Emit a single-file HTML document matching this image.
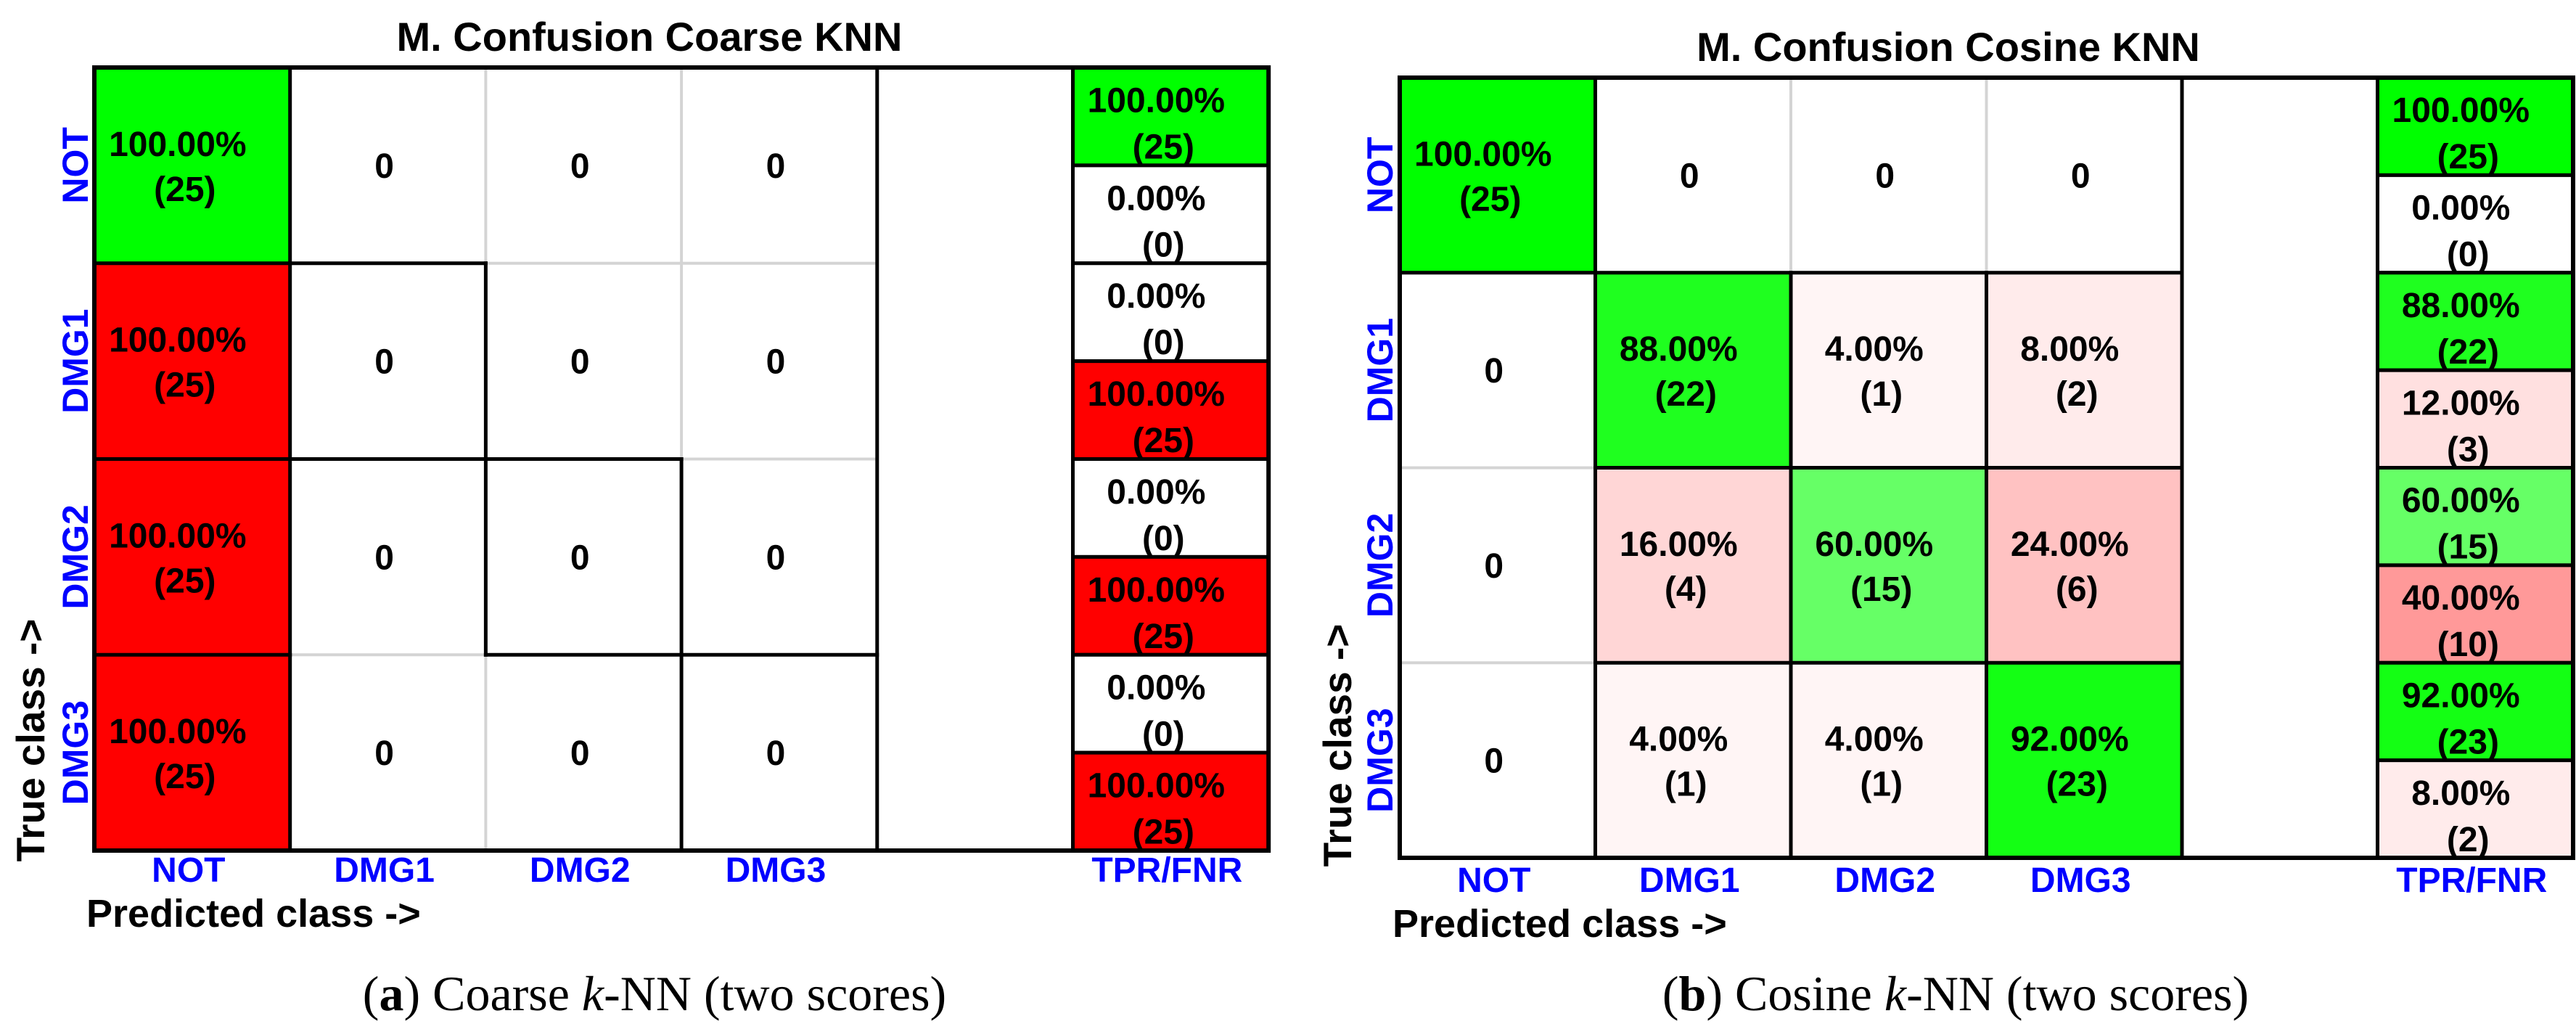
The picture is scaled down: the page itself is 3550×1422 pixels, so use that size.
<!DOCTYPE html>
<html><head><meta charset="utf-8"><style>
html,body{margin:0;padding:0;background:#fff;}
svg{display:block;}
text{font-family:"Liberation Sans",Arial,sans-serif;font-weight:bold;}
.cap{font-family:"Liberation Serif",serif;font-weight:normal;}
</style></head><body>
<svg id="fig" width="3550" height="1422" viewBox="0 0 3550 1422" xmlns="http://www.w3.org/2000/svg"></svg>
<script>
const classLabels = ["NOT","DMG1","DMG2","DMG3"];
const coarseCounts = [[25,0,0,0],[25,0,0,0],[25,0,0,0],[25,0,0,0]];
const cosineCounts = [[25,0,0,0],[0,22,1,2],[0,4,15,6],[0,1,1,23]];
const titles = ["M. Confusion Coarse KNN","M. Confusion Cosine KNN"];

const NS="http://www.w3.org/2000/svg";
const svg=document.getElementById('fig');
function mk(tag,attrs,parent){const e=document.createElementNS(NS,tag);for(const k in attrs)e.setAttribute(k,attrs[k]);(parent||svg).appendChild(e);return e;}

const charts=[
 {id:'coarse',counts:coarseCounts,title:titles[0],x0:130,y0:93,cw:269.7,ch:269.75,titleX:895,titleY:70,xlabY:1215,predX:119,predY:1277,trueX:41,trueY:1020,rowLabX:103,capX:902,capY:1392,capLetter:'a',capName:'Coarse ',
  black:[['h',1,1,2],['h',2,1,3],['h',3,2,4],['v',2,1,3],['v',3,2,4]]},
 {id:'cosine',counts:cosineCounts,title:titles[1],x0:1929,y0:107,cw:269.5,ch:268.75,titleX:2685,titleY:84,xlabY:1229,predX:1919,predY:1291,trueX:1842,trueY:1027,rowLabX:1901,capX:2695,capY:1392,capLetter:'b',capName:'Cosine ',
  black:[['h',1,0,4],['h',2,1,4],['h',3,1,4],['v',2,1,4],['v',3,1,4]]}
];

function fillFor(p,good){if(p<=0)return '#ffffff';const o=Math.round(255*(1-p));return good?`rgb(${o},255,${o})`:`rgb(255,${o},${o})`;}

charts.forEach(c=>{
  const g=mk('g',{});
  
  
  const X=i=>c.x0+i*c.cw, Y=j=>c.y0+j*c.ch;
  const n=classLabels.length;
  // title
  const t=mk('text',{x:c.titleX,y:c.titleY,'text-anchor':'middle','font-size':56,fill:'#000'},g);
  t.textContent=c.title;
  
  
  // cells
  for(let r=0;r<n;r++){
    const tot=c.counts[r].reduce((a,b)=>a+b,0);
    for(let k=0;k<n;k++){
      const v=c.counts[r][k];const p=tot?v/tot:0;
      const rect=mk('rect',{x:X(k),y:Y(r),width:c.cw,height:c.ch,fill:fillFor(p,r===k)},g);
      
      
      const cx=X(k)+c.cw/2, cy=Y(r)+c.ch/2;
      if(v===0){
        const z=mk('text',{x:cx-5,y:cy+17,'text-anchor':'middle','font-size':48},g);z.textContent='0';
        
        
      }else{
        const a=mk('text',{x:cx-20,y:cy-13,'text-anchor':'middle','font-size':48},g);a.textContent=(p*100).toFixed(2)+'%';
        
        
        const b=mk('text',{x:cx-10,y:cy+49,'text-anchor':'middle','font-size':48},g);b.textContent='('+v+')';
        
        
      }
    }
    // TPR/FNR
    const d=c.counts[r][r], tp=tot?d/tot:0, fn=tot?(tot-d)/tot:0;
    const hx=X(5), hh=c.ch/2;
    [[tp,d,true],[fn,tot-d,false]].forEach((q,i)=>{
      const yy=Y(r)+i*hh;
      const rr=mk('rect',{x:hx,y:yy,width:c.cw,height:hh,fill:fillFor(q[0],q[2]),stroke:'#000','stroke-width':5},g);
      
      
      const cx=hx+c.cw/2, cy=yy+hh/2;
      const a=mk('text',{x:cx-20,y:cy-6,'text-anchor':'middle','font-size':48},g);a.textContent=(q[0]*100).toFixed(2)+'%';
      
      
      const b=mk('text',{x:cx-10,y:cy+58,'text-anchor':'middle','font-size':48},g);b.textContent='('+q[1]+')';
      
      
    });
    // row label
    const ly=Y(r)+c.ch/2;
    const rl=mk('text',{x:c.rowLabX,y:ly,'text-anchor':'middle','font-size':50,fill:'#0000ff',transform:`rotate(-90 ${c.rowLabX} ${ly}) translate(0 18)`},g);
    rl.textContent=classLabels[r];
    
    
  }
  // gray internal lines
  for(let i=1;i<n;i++){
    mk('line',{x1:X(i),y1:Y(0),x2:X(i),y2:Y(n),stroke:'#d4d4d4','stroke-width':4},g);
    mk('line',{x1:X(0),y1:Y(i),x2:X(4),y2:Y(i),stroke:'#d4d4d4','stroke-width':4},g);
  }
  // black borders for column 0 block
  const bl=(x1,y1,x2,y2)=>mk('line',{x1,y1,x2,y2,stroke:'#000','stroke-width':5,'stroke-linecap':'square'},g);
  if(c.id==='coarse'){for(let i=1;i<n;i++)bl(X(0),Y(i),X(1),Y(i));}
  bl(X(1),Y(0),X(1),Y(n));
  bl(X(4),Y(0),X(4),Y(n));
  c.black.forEach(s=>{ if(s[0]==='h')bl(X(s[2]),Y(s[1]),X(s[3]),Y(s[1])); else bl(X(s[1]),Y(s[2]),X(s[1]),Y(s[3])); });
  const ob=mk('rect',{x:X(0),y:Y(0),width:6*c.cw,height:n*c.ch,fill:'none',stroke:'#000','stroke-width':6},g);
  
  
  // column labels
  const colLabs=classLabels.concat(['','TPR/FNR']);
  colLabs.forEach((l,k)=>{ if(!l)return;
    const tx=mk('text',{x:X(k)+c.cw/2-5,y:c.xlabY,'text-anchor':'middle','font-size':48,fill:'#0000ff'},g);tx.textContent=l;
    
    
  });
  const pr=mk('text',{x:c.predX,y:c.predY,'font-size':54,fill:'#000'},g);pr.textContent='Predicted class ->';
  
  
  const tr=mk('text',{x:c.trueX,y:c.trueY,'text-anchor':'middle','font-size':55,fill:'#000',transform:`rotate(-90 ${c.trueX} ${c.trueY}) translate(0 20)`},g);tr.textContent='True class ->';
  
  
  const cap=mk('text',{x:c.capX,y:c.capY,'text-anchor':'middle','font-size':68,'class':'cap',fill:'#000'},g);
  
  
  const s1=mk('tspan',{},cap);s1.textContent='(';
  const s2=mk('tspan',{'font-weight':'bold'},cap);s2.textContent=c.capLetter;
  const s3=mk('tspan',{},cap);s3.textContent=') '+c.capName;
  const s4=mk('tspan',{'font-style':'italic'},cap);s4.textContent='k';
  const s5=mk('tspan',{},cap);s5.textContent='-NN (two scores)';
});
</script>
</body></html>
